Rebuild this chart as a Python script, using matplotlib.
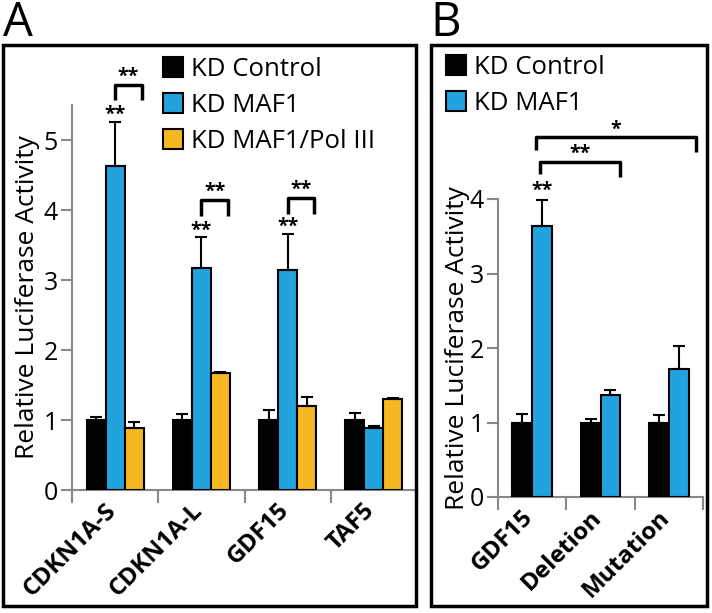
import matplotlib
matplotlib.use("Agg")
import matplotlib.pyplot as plt
from matplotlib.lines import Line2D
from matplotlib.patches import Rectangle
from matplotlib.transforms import ScaledTranslation
import numpy as np

plt.rcParams['font.family'] = ['Open Sans', 'DejaVu Sans']

# --------------------------
# Data
# --------------------------
genes_a = ['CDKN1A-S', 'CDKN1A-L', 'GDF15', 'TAF5']
ctrl_a = [1.0, 1.0, 1.0, 1.0]
ctrl_a_err = [0.05, 0.08, 0.14, 0.10]
maf1_a = [4.63, 3.17, 3.15, 0.89]
maf1_a_err = [0.63, 0.44, 0.51, 0.03]
pol3_a = [0.89, 1.67, 1.20, 1.30]
pol3_a_err = [0.08, 0.02, 0.13, 0.01]
# significance brackets: (group, y top, label)
brackets_a = [(0, 5.79, '**'), (1, 4.14, '**'), (2, 4.17, '**')]

genes_b = ['GDF15', 'Deletion', 'Mutation']
ctrl_b = [1.0, 1.0, 1.0]
ctrl_b_err = [0.12, 0.05, 0.10]
maf1_b = [3.64, 1.37, 1.72]
maf1_b_err = [0.35, 0.06, 0.31]
# (x left, x right, y top, label)
brackets_b = [(0.62, 1.78, 4.50, '**'), (0.56, 2.90, 4.83, '*')]

BLACK = '#000000'
BLUE = '#22A3DE'
YELLOW = '#F6B820'
GRAY = '#888888'

W, H = 712, 613
fig = plt.figure(figsize=(W / 100, H / 100), dpi=100)


def px_axes(x0, y0, x1, y1):
    # pixel box (top-left origin) -> axes
    return fig.add_axes([x0 / W, 1 - y1 / H, (x1 - x0) / W, (y1 - y0) / H])


def style_axes(ax, ymax_axis, ntick):
    for s in ['top', 'right']:
        ax.spines[s].set_visible(False)
    for s in ['left', 'bottom']:
        ax.spines[s].set_color(GRAY)
        ax.spines[s].set_linewidth(1.5)
    ax.spines['left'].set_bounds(0, ymax_axis)
    ax.set_yticks(range(ntick))
    ax.tick_params(axis='y', colors=GRAY, length=8, width=1.5, labelsize=18,
                   labelcolor='black', pad=2)
    ax.tick_params(axis='x', which='major', colors=GRAY, length=9, width=1.5,
                   labelbottom=False)
    ax.tick_params(axis='x', which='minor', length=0, labelsize=17.5,
                   labelcolor='black', pad=6)
    ax.set_facecolor('none')


def gene_labels(ax, centers, names):
    ax.set_xticks(centers, minor=True)
    ax.set_xticklabels(names, minor=True, rotation=45, ha='right',
                       rotation_mode='anchor', fontweight='bold', fontsize=17.5)
    shift = ScaledTranslation(-11 / 100, 0, fig.dpi_scale_trans)
    for lbl in ax.get_xticklabels(minor=True):
        lbl.set_transform(lbl.get_transform() + shift)


def stars(ax, x, y, label, size=14):
    ax.text(x, y, label, ha='center', va='bottom', fontsize=size,
            fontweight='bold', color='black')


def bracket(ax, xl, xr, ytop, ybot_l, ybot_r):
    ax.plot([xl, xl, xr, xr], [ybot_l, ytop, ytop, ybot_r], color='black',
            lw=2.5, solid_capstyle='butt', clip_on=False)


ekw = dict(capsize=4, elinewidth=1.5, capthick=1.5, ecolor='black')

# --------------------------
# Panel A
# --------------------------
ax = px_axes(72, 50, 417, 490)
xa = np.arange(len(genes_a)) + 0.5
w = 0.22
ax.bar(xa - w, ctrl_a, w, color=BLACK, edgecolor='black', lw=1.5,
       yerr=[np.zeros(4), ctrl_a_err], error_kw=ekw, zorder=3)
ax.bar(xa, maf1_a, w, color=BLUE, edgecolor='black', lw=1.5,
       yerr=[np.zeros(4), maf1_a_err], error_kw=ekw, zorder=3)
ax.bar(xa + w, pol3_a, w, color=YELLOW, edgecolor='black', lw=1.5,
       yerr=[np.zeros(4), pol3_a_err], error_kw=ekw, zorder=3)
ax.set_xlim(0, (417 - 72) / 87)
ax.set_ylim(0, 440 / 70)
style_axes(ax, 5.5, 6)
ax.set_xticks(range(5))
gene_labels(ax, xa, genes_a)
ax.set_ylabel('Relative Luciferase Activity', fontsize=19)
ax.yaxis.set_label_coords((40 - 72) / 345, 1 - (297 - 50) / 440)

for g, yt, lab in brackets_a:
    top = maf1_a[g] + maf1_a_err[g]
    stars(ax, xa[g], top - 0.05, lab)
    bracket(ax, xa[g], xa[g] + 0.31, yt, yt - 0.22, yt - 0.22)
    stars(ax, xa[g] + 0.155, yt - 0.03, lab)

leg_a = [Line2D([], [], ls='none', marker='s', markersize=14,
                markerfacecolor=c, markeredgecolor='black', markeredgewidth=1.5)
         for c in [BLACK, BLUE, YELLOW]]
fig.legend(leg_a, ['KD Control', 'KD MAF1', 'KD MAF1/Pol III'],
           loc='upper left', bbox_to_anchor=(163 / W, 1 - 57 / H),
           frameon=False, fontsize=18.5, handlelength=0.8, handletextpad=0.3,
           labelspacing=0.42, borderpad=0, borderaxespad=0)

# --------------------------
# Panel B
# --------------------------
bx = px_axes(498, 50, 703, 497)
xb = np.arange(len(genes_b)) + 0.5
wb = 0.29
bx.bar(xb - wb / 2, ctrl_b, wb, color=BLACK, edgecolor='black', lw=1.5,
       yerr=[np.zeros(3), ctrl_b_err], error_kw=ekw, zorder=3)
bx.bar(xb + wb / 2, maf1_b, wb, color=BLUE, edgecolor='black', lw=1.5,
       yerr=[np.zeros(3), maf1_b_err], error_kw=ekw, zorder=3)
bx.set_xlim(0, 3)
bx.set_ylim(0, 447 / 74.5)
style_axes(bx, 4.0, 5)
bx.set_xticks(range(4))
gene_labels(bx, xb, genes_b)
bx.set_ylabel('Relative Luciferase Activity', fontsize=19)
bx.yaxis.set_label_coords((470 - 498) / 205, 1 - (348 - 50) / 447)

stars(bx, xb[0] + wb / 2, maf1_b[0] + maf1_b_err[0] - 0.02, '**')
for xl, xr, yt, lab in brackets_b:
    bracket(bx, xl, xr, yt, yt - 0.17, yt - 0.2)
    stars(bx, (xl + xr) / 2, yt - 0.03, lab)

fig.legend(leg_a[:2], ['KD Control', 'KD MAF1'],
           loc='upper left', bbox_to_anchor=(446 / W, 1 - 55 / H),
           frameon=False, fontsize=18.5, handlelength=0.8, handletextpad=0.3,
           labelspacing=0.42, borderpad=0, borderaxespad=0)

# --------------------------
# Frames and panel letters
# --------------------------
for x0, x1 in [(3, 416), (431, 707)]:
    fig.patches.append(Rectangle((x0 / W, 1 - 606 / H), (x1 - x0) / W,
                                 (606 - 45) / H, transform=fig.transFigure,
                                 fill=False, edgecolor='black', lw=2.5,
                                 zorder=10))
fig.text(3 / W, 1 - 0 / H, 'A', fontsize=34, va='top', ha='left')
fig.text(430 / W, 1 - 0 / H, 'B', fontsize=34, va='top', ha='left')

fig.savefig('out.png', dpi=100)
